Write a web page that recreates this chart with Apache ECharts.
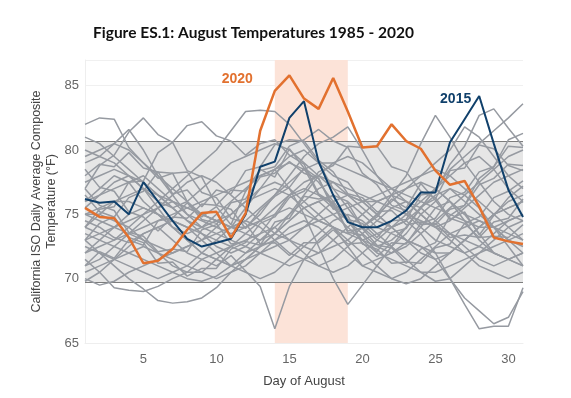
<!DOCTYPE html>
<html>
<head>
<meta charset="utf-8">
<script src="https://cdn.jsdelivr.net/npm/echarts@6/dist/echarts.min.js"></script>
<style>
  html,body{margin:0;padding:0;background:#fff;}
  #main{width:571px;height:398px;}
</style>
</head>
<body>
<div id="main"></div>
<script>
// days of August
var days = [];
for (var d = 1; d <= 31; d++) days.push(String(d));

var yTicks = [65, 70, 75, 80, 85];

// highlighted years
var t2020 = [75.5,74.8,74.7,73.2,71.2,71.4,72.3,73.8,75.1,75.2,73.2,75.1,81.5,84.6,85.8,84.0,83.2,85.6,83.0,80.2,80.3,82.0,80.7,80.1,78.4,77.3,77.6,75.6,73.2,72.9,72.7];
var t2015 = [76.2,75.9,76.0,75.0,77.5,76.0,74.5,73.1,72.5,72.8,73.1,75.0,78.7,79.1,82.5,83.8,79.1,76.5,74.4,74.0,74.0,74.5,75.3,76.7,76.7,80.6,82.4,84.2,80.5,76.9,74.8];

// other years (grey)
var grey = [
  [74.5,74,73.2,72.8,73.5,74,73,72,71.5,71,71.8,70.6,69.4,66.1,69.4,71.5,73,74,72.5,71,71.5,72,72.8,74,75.5,76,75,73.5,72,71.5,71],
  [82,82.5,82.4,80.2,79,77.8,78.2,76,74.8,75.6,74.2,76.8,78.5,77.9,80.1,78.6,77.8,75.4,75.9,74,74.8,76.2,75.5,77.4,76.1,74.6,75.2,73.4,74.9,76.3,77.2],
  [77,78.8,79.6,81.4,82.5,81.2,80.6,78.4,77.9,75.7,75.4,73.9,75.3,76.4,77.1,78.6,76.5,75.8,73.6,73.4,72.1,73.6,73.9,75.6,76.2,78.4,78.6,80.4,80.1,78.8,78.4],
  [79,79.5,80.5,81.6,80,78,76.5,75,74,73.5,74,75.5,77,78.5,79.5,80,79,77,75.5,74,73,72.5,73.5,75,76,77,76,75,74,73,72.5],
  [74,75.4,75.6,77.5,77.6,79.8,80.6,81.9,82.2,81.1,80.7,79.6,80.5,80.8,79.6,78.9,76.6,75.9,73.7,73.9,72.6,72.4,71.2,72.3,72.8,74.9,75.7,77.8,78.7,80.8,81.3],
  [72,72.5,73,74,75,76,77,78,79,80,81.5,83,83.1,83,82,80.5,79,78,77.5,76,75,74,73,72,71.5,72,73,74,75,76,76.5],
  [71.5,70.5,69.3,69.1,69,69.4,70,70.5,71.5,72,72.5,73,73.5,74,73,72,71,70.5,71,72,73,74,75,76,77,76,74.5,73,72,71.5,72],
  [73,72,71,70,69.2,68.3,68.1,68.2,68.5,69.3,70.5,71.5,72,72.5,73,74,75,76,76.5,76,75,74,73,72.5,72,72,73,74,75,75.5,76],
  [76,77,78,77.5,76,75,74,73.5,74,75,76,77,78,78.5,77,75,72.5,70,68,69.5,71,72.5,74,75.5,77,78,79,79.5,78.5,77,76],
  [74,75,76,76.5,77,76.5,75.5,74.5,74,74.5,75,76,77,77.5,77,76,75,74,73.5,73,73.5,74,74.5,73.5,72,70,68,66.1,66.3,66.3,69.3],
  [72,73,74,75,75.5,75,74,73,72,71.5,71,71.5,72.5,73.5,74.5,75.5,76,76.5,76,75,74,73.5,73,72.5,71.5,70,68.5,67.5,66.5,67,69],
  [73,73.5,74,74.5,75,75.5,76,75.5,75,74.5,74,73.5,73,73.5,74.5,75.5,76,75,74,73,72.5,73,74,75.5,77,78.5,79.5,80.5,81.5,82.5,83.6],
  [75,74.5,74,73.5,73,72.5,72,72.5,73,74,75,76,76.5,77,76.5,75.5,74.5,74,73.5,74,75,76.5,78,80.5,82.7,81,79,77.5,76,75,74.5],
  [71,72.1,71.6,73,72.6,74.5,74.7,75.9,74.6,74.3,72.7,72.9,72.6,74.4,74.7,76.4,76.2,76.4,74.6,74.3,73.2,74.5,74.6,76.5,76.7,78.9,80.3,82.7,83.2,81.7,80.3],
  [76,76.5,77,77.5,78,77,76,75,74.5,74,73.5,74,75,76.5,78,79.5,80.5,81,81.8,80,78,76.5,75,74,73,72.5,72,72.5,73.5,74.5,75],
  [75,75.5,76,76,75.5,75,74.5,74,73.5,73,72.5,72,72.5,73,73.5,74,74.5,75,75.5,76,76.5,77,77.5,78,79,80,81.8,81,79.5,78,77],
  [70.5,71,71.5,72,72.5,72,71.5,71,70.5,70,70.5,71,72,73,74,74.5,74,73,72,71,70.5,70,70.5,71.5,72.5,73.5,74,74.5,74,73,72],
  [78,78.9,78.7,79.8,78.6,78.3,76.6,76.9,75.6,76.9,76.6,78.4,78.7,80.4,80.8,80.7,79.2,78.3,76.6,76.3,75.2,75.3,74.2,74.4,74.2,75.4,75.7,77.3,77.8,78.9,78.8],
  [80,79.5,79,78,77,76,75.5,76,77,78,79,79.5,80,80.5,80,79,78,77,76.5,76,76,76.5,77,77.5,77,76,75,74.5,74,73.5,73],
  [69.8,70.5,71.5,72.5,73.5,74,74.5,74,73,72,71,70.5,70,70.5,71.5,72.5,73.5,74.5,75,74.5,73.5,72.5,71.5,70.5,69.8,70,71,72,73,74,74.5],
  [73.5,73,72.5,72,71.5,71,70.5,70,69.8,70.2,71,72,73,74,75,76,77,77.5,77,76.5,76,75.5,75,74.5,74,74.5,75.5,76.5,77.5,78,78.5],
  [77,75.7,75.3,73.6,73.3,72.1,72.3,72.1,73.8,74.2,75.9,76.2,77.9,78.2,79.1,78.2,77.8,75.6,74.9,72.7,72.3,71.2,71.3,71.2,72.4,72.7,74.3,74.8,76.3,76.8,77.6],
  [75.5,76.5,77.5,78,77.5,76.5,75.5,74.5,73.5,72.5,72,72.5,73.5,75,76.5,77.5,78,77.5,76.5,75.5,74.5,74,74.5,75.5,76.5,77,76.5,75.5,74,72.5,71],
  [71,71.5,72.5,73.5,74,74.5,75,75.5,76,76.5,77,77.5,78,78.5,79,78.5,77.5,76,74.5,73,72,71.5,71,70.5,70.5,71,71.5,72,72.5,73,73.5],
  [74,73.5,73,73.5,74.5,75.5,76.5,77.5,78,77.5,76.5,75.5,74.5,73.5,73,72.5,72,72.5,73,74,75,76,77,78,78.5,78,77,76,75,74,73],
  [78.5,77.1,76.8,75.2,74.8,73.7,74.8,74.7,75.8,75.7,76.9,76.8,78.4,78.7,80.3,80.8,81.6,80.7,80.2,78.2,77.3,75.7,75.3,74.2,74.3,73.2,73.4,73.2,74.4,74.7,76.2],
  [72.5,72,71.5,71,70.5,70,70.5,71,72,73,74,74.5,74,73,72,71.5,71,71.5,72.5,73.5,74.5,75.5,76,75.5,74.5,73.5,72.5,71.5,71,71.5,72],
  [76.5,75.2,74.8,73.2,72.8,71.2,71.3,70.2,70.8,70.8,72.3,72.8,74.3,74.8,76.3,76.8,78.3,78.8,80.3,80.2,80.3,78.7,78.3,76.8,76.3,74.7,74.3,73.2,73.3,73.2,74.2],
  [79.5,80,80.5,80,79,78,77,76,75,74.5,74,74,74.5,75.5,76.5,77,76.5,75.5,74.5,73.5,72.5,72,72.5,73.5,74.5,75.5,76.5,77.5,78.5,79.5,80],
  [70,69.5,69.8,70.5,71,71.5,72,72.5,73,73.5,73,72.5,72,71.5,71,71.5,72,73,74,75,76,76.5,76,75,74,73,72,71,70.5,70,70.5],
  [73,74.3,74.8,76.3,76.8,78.3,78.2,78.3,76.7,76.3,74.7,74.3,72.7,72.8,71.8,72.8,72.8,73.8,72.7,72.8,71.7,72.8,72.7,74.3,74.7,76.3,76.7,78.3,78.7,80.3,80.2],
  [77.5,78,78.5,78,77,75.5,74,73,72,71.5,71,71.5,72.5,73.5,75,76.5,78,79,79.5,79,78,77,76,75,74,73.5,73,72.5,72,71.5,71],
  [75,75,74.5,74,73,72,71,70.5,70.5,71.5,72.5,73.5,74.5,75,75.5,75,74.5,74,73,72,71,70,69.6,70,71,72,73,74,75,75.5,76],
  [81,80.5,79.5,78.5,77.5,76.5,76,75.5,75,74.5,74,74.5,75.5,76.5,77.5,78.5,79,79,78.5,78,77.5,77,76.5,76,75.5,75,74.5,74,74,74.5,75]
];

// normal range and heat wave window
var bandLow = 69.7, bandHigh = 80.7;
var heatStart = '14', heatEnd = '19';

var chart = echarts.init(document.getElementById('main'));

var series = [];
// background bands
series.push({
  type: 'line',
  data: [],
  silent: true,
  markArea: {
    silent: true,
    data: [
      [{xAxis: heatStart, itemStyle: {color: '#fce3d8'}}, {xAxis: heatEnd}],
      [{yAxis: bandLow, itemStyle: {color: '#e6e6e6'}}, {yAxis: bandHigh}]
    ]
  },
  markLine: {
    silent: true,
    symbol: 'none',
    z: 1,
    label: {show: false},
    lineStyle: {color: '#7d7d7d', width: 1, type: 'solid'},
    data: [{yAxis: bandLow}, {yAxis: bandHigh}]
  }
});

grey.forEach(function (vals) {
  series.push({
    type: 'line',
    data: vals,
    symbol: 'none',
    silent: true,
    lineStyle: {color: '#969aa1', width: 1.5},
    z: 3
  });
});

series.push({
  type: 'line',
  data: t2015,
  symbol: 'none',
  lineStyle: {color: '#10406b', width: 2},
  z: 5,
  markPoint: {
    symbol: 'circle', symbolSize: 0,
    label: {show: true, formatter: '2015', position: 'left', distance: 8, offset: [0, 3],
      color: '#10406b', fontWeight: 'bold', fontSize: 14, fontFamily: 'Liberation Sans'},
    data: [{coord: ['28', 84.2]}]
  }
});
series.push({
  type: 'line',
  data: t2020,
  symbol: 'none',
  lineStyle: {color: '#e2712f', width: 2.5},
  z: 6,
  markPoint: {
    symbol: 'circle', symbolSize: 0,
    label: {show: true, formatter: '2020', position: 'left', distance: 22, offset: [0, -12],
      color: '#e2712f', fontWeight: 'bold', fontSize: 14, fontFamily: 'Liberation Sans'},
    data: [{coord: ['14', 84.6]}]
  }
});

chart.setOption({
  animation: false,
  title: {
    text: 'Figure ES.1: August Temperatures 1985 - 2020',
    left: 88, top: 20,
    textStyle: {fontSize: 15.5, fontWeight: 'bold', color: '#111', fontFamily: 'Lato'}
  },
  grid: {left: 85, right: 48, top: 60, bottom: 55},
  xAxis: {
    type: 'category',
    data: days,
    boundaryGap: false,
    name: 'Day of August',
    nameLocation: 'middle',
    nameGap: 32,
    nameTextStyle: {color: '#444', fontSize: 13, fontFamily: 'Liberation Sans'},
    axisLine: {lineStyle: {color: '#eeeeee'}},
    axisTick: {show: false},
    axisLabel: {
      color: '#666', fontSize: 13, fontFamily: 'Liberation Sans', margin: 10,
      interval: function (i, v) { return Number(v) % 5 === 0; }
    },
    splitLine: {show: false}
  },
  yAxis: {
    type: 'value',
    min: 65, max: 87, interval: 5,
    name: 'California ISO Daily Average Composite\nTemperature (°F)',
    nameLocation: 'middle',
    nameGap: 26,
    nameMoveOverlap: false,
    nameTextStyle: {color: '#444', fontSize: 12.5, fontFamily: 'Liberation Sans', lineHeight: 15},
    axisLine: {show: true, lineStyle: {color: '#eeeeee'}},
    axisTick: {show: false},
    axisLabel: {color: '#666', fontSize: 13, fontFamily: 'Liberation Sans', margin: 6, showMaxLabel: false},
    splitLine: {lineStyle: {color: '#f0f0f0'}}
  },
  series: series
});
</script>
</body>
</html>
